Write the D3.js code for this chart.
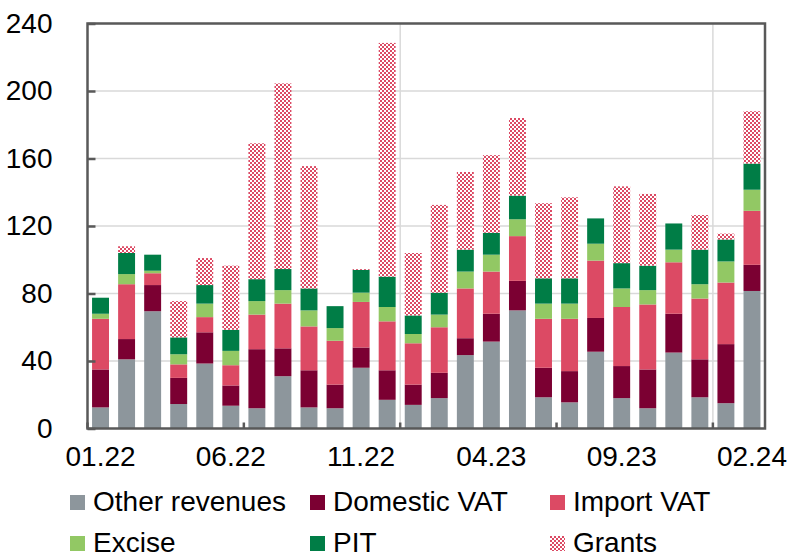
<!DOCTYPE html>
<html>
<head>
<meta charset="utf-8">
<script src="https://cdn.jsdelivr.net/npm/d3@7"></script>
<style>
  body { margin: 0; background: #fff; }
  text { font-family: "Liberation Sans", Arial, sans-serif; fill: #000; }
</style>
</head>
<body>
<div id="chart"></div>
<script>
const months = ["01.22","02.22","03.22","04.22","05.22","06.22","07.22","08.22","09.22","10.22","11.22","12.22",
  "01.23","02.23","03.23","04.23","05.23","06.23","07.23","08.23","09.23","10.23","11.23","12.23",
  "01.24","02.24"];

const otherRevenues = [12.5,41,69.5,14.5,38.5,13.5,12,31,12.5,12,36,17, 14,18,43.5,51.5,70,18.5,15.5,45.5,18,12,45,18.5, 15,81.5];
const domesticVat   = [22.5,12,15.5,15.5,18.5,12,35,16.5,22,14,12,17.5, 12,15,10,16.5,17.5,17.5,18.5,20,19,23,23,22.5, 35,15.5];
const importVat     = [30,32.5,7,8,9,12,20.5,26.5,26,26,27,29, 24.5,27,29.5,25,26.5,29,31,34,35,38.5,30.5,36, 36.5,32];
const excise        = [3,6,1.5,6,8,8.5,8,8,9.5,7.5,5.5,8.5, 5.5,7.5,10,10,10,9,9,10,11,8.5,7.5,8.5, 12.5,12.5];
const pit           = [9.5,12.5,9.5,10,11,12.5,13,12.5,13,13,13.5,18, 11,13,13,13,14,15,15,15,15,14.5,15.5,20.5, 13,15.5];
const grants        = [0,4,0,21.5,16,38,80.5,110,72.5,0,0.5,138.5, 37,52,46,46,46,44.5,48,0,45.5,42.5,0,20.5, 3.5,31];

const seriesNames = ["Other revenues","Domestic VAT","Import VAT","Excise","PIT","Grants"];
const seriesKeys = ["other","domVat","impVat","excise","pit","grants"];
const yTicks = [0,40,80,120,160,200,240];
const xLabelMonths = ["01.22","06.22","11.22","04.23","09.23","02.24"];

const colors = {
  other: "#8d969c",
  domVat: "#7b0032",
  impVat: "#dc4a64",
  excise: "#92c864",
  pit: "#007d46",
  grants: "url(#grants-pattern)"
};

const table = months.map((m, i) => ({
  month: m,
  other: otherRevenues[i],
  domVat: domesticVat[i],
  impVat: importVat[i],
  excise: excise[i],
  pit: pit[i],
  grants: grants[i]
}));

const width = 791;
const height = 557;
const plotLeft = 87.5, plotRight = 765, plotTop = 23.5, plotBottom = 428.5;

const x = d3.scaleBand()
  .domain(months)
  .range([plotLeft, plotRight])
  .paddingInner(0.35)
  .paddingOuter(0.175);

const y = d3.scaleLinear()
  .domain([0, 240])
  .range([plotBottom, plotTop]);

const stacked = d3.stack().keys(seriesKeys)(table);

const svg = d3.select("#chart")
  .append("svg")
  .attr("width", width)
  .attr("height", height)
  .attr("viewBox", [0, 0, width, height]);

const defs = svg.append("defs");
const pat = defs.append("pattern")
  .attr("id", "grants-pattern")
  .attr("patternUnits", "userSpaceOnUse")
  .attr("width", 4)
  .attr("height", 4);
pat.append("rect").attr("width", 4).attr("height", 4).attr("fill", "#fff");
pat.append("rect").attr("width", 2).attr("height", 2).attr("fill", "#dc4a64");
pat.append("rect").attr("x", 2).attr("y", 2).attr("width", 2).attr("height", 2).attr("fill", "#dc4a64");

// boundary between two bands, left of the given month
const edge = (m) => x(m) - x.step() * x.paddingInner() / 2;

// horizontal gridlines
svg.append("g")
  .selectAll("line")
  .data(yTicks.slice(1))
  .join("line")
  .attr("x1", plotLeft)
  .attr("x2", plotRight)
  .attr("y1", (d) => y(d))
  .attr("y2", (d) => y(d))
  .attr("stroke", "#d9d9d9")
  .attr("stroke-width", 1.5);

// year separators
const yearStarts = ["01.23", "01.24"];
svg.append("g")
  .selectAll("line")
  .data(yearStarts)
  .join("line")
  .attr("x1", edge)
  .attr("x2", edge)
  .attr("y1", plotTop)
  .attr("y2", plotBottom)
  .attr("stroke", "#d9d9d9")
  .attr("stroke-width", 1.5);

// bars
svg.append("g")
  .selectAll("g")
  .data(stacked)
  .join("g")
  .attr("fill", (d) => colors[d.key])
  .selectAll("rect")
  .data((d) => d)
  .join("rect")
  .attr("x", (d) => x(d.data.month))
  .attr("y", (d) => y(d[1]))
  .attr("width", x.bandwidth())
  .attr("height", (d) => Math.max(0, y(d[0]) - y(d[1])));

// frame
svg.append("rect")
  .attr("x", plotLeft)
  .attr("y", plotTop)
  .attr("width", plotRight - plotLeft)
  .attr("height", plotBottom - plotTop)
  .attr("fill", "none")
  .attr("stroke", "#595959")
  .attr("stroke-width", 2.5);

// y axis
const yAxis = svg.append("g")
  .attr("transform", `translate(${plotLeft},0)`)
  .call(d3.axisLeft(y).tickValues(yTicks).tickSize(-8).tickPadding(35));
yAxis.select(".domain").remove();
yAxis.selectAll(".tick line").attr("stroke", "#595959").attr("stroke-width", 2.5);
yAxis.selectAll(".tick text")
  .attr("font-size", 28)
  .attr("font-family", "Liberation Sans, Arial, sans-serif")
  .attr("fill", "#000");

// x axis ticks every 6 months at band boundaries
const tickMonths = months.filter((d, i) => i % 6 === 0);
svg.append("g")
  .selectAll("line")
  .data(tickMonths)
  .join("line")
  .attr("x1", edge)
  .attr("x2", edge)
  .attr("y1", plotBottom)
  .attr("y2", plotBottom - 6)
  .attr("stroke", "#595959")
  .attr("stroke-width", 2.5);

svg.append("g")
  .selectAll("text")
  .data(xLabelMonths)
  .join("text")
  .attr("x", (d) => x(d) + x.bandwidth() / 2)
  .attr("y", 466)
  .attr("text-anchor", "middle")
  .attr("font-size", 28)
  .text((d) => d);

// legend
const legendX = [70, 310, 550];
const legendY = [495, 536];
const legend = svg.append("g")
  .selectAll("g")
  .data(seriesKeys)
  .join("g")
  .attr("transform", (d, i) => `translate(${legendX[i % 3]},${legendY[Math.floor(i / 3)]})`);
legend.append("rect")
  .attr("width", 15)
  .attr("height", 15)
  .attr("fill", (d) => colors[d]);
legend.append("text")
  .attr("x", 23)
  .attr("y", 16)
  .attr("font-size", 28)
  .text((d, i) => seriesNames[i]);
</script>
</body>
</html>
